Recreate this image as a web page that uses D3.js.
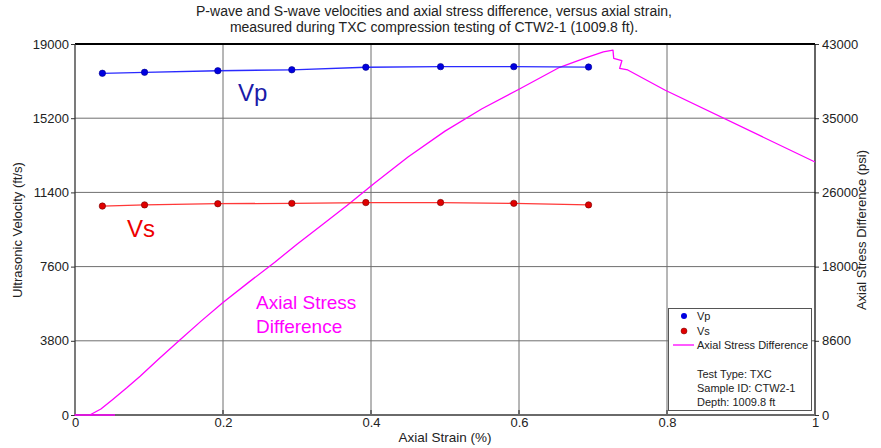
<!DOCTYPE html>
<html>
<head>
<meta charset="utf-8">
<script src="https://cdn.jsdelivr.net/npm/d3@7"></script>
<style>
  html, body { margin: 0; padding: 0; background: #fff; }
  svg { display: block; font-family: "Liberation Sans", Arial, sans-serif; }
</style>
</head>
<body>
<svg id="chart" width="881" height="448"></svg>
<script>
// Ultrasonic velocity measurements (ft/s) at each strain step (%)
const waveStrain = [0.037, 0.094, 0.193, 0.293, 0.393, 0.494, 0.593, 0.694];
const vpValues = [17500, 17550, 17630, 17680, 17810, 17840, 17840, 17820];
const vsValues = [10700, 10760, 10820, 10840, 10880, 10880, 10840, 10760];

// Axial stress difference (psi) versus axial strain (%)
const stressStrain = [0.054, 0.0, 0.02, 0.035, 0.051, 0.07, 0.088, 0.112, 0.139, 0.17, 0.2, 0.235, 0.27, 0.3, 0.335, 0.368, 0.405, 0.45, 0.5, 0.55, 0.6, 0.655, 0.69, 0.714, 0.727, 0.728, 0.739, 0.736, 0.747, 0.797, 1.0];
const stressValues = [0, 0, 0, 700, 1800, 3150, 4500, 6400, 8500, 10850, 13050, 15400, 17700, 19800, 22100, 24300, 26900, 29900, 32900, 35500, 37750, 40300, 41400, 42100, 42300, 41340, 41060, 40180, 39990, 37670, 29320];

// Axis ticks
const xTicks = [0, 0.2, 0.4, 0.6, 0.8, 1];
const xTickLabels = ["0", "0.2", "0.4", "0.6", "0.8", "1"];
const leftTicks = [0, 3800, 7600, 11400, 15200, 19000];
const rightTicks = [0, 8600, 17200, 25800, 34400, 43000];
const rightTickLabels = ["0", "8600", "18000", "26000", "35000", "43000"];

const titleLines = [
  "P-wave and S-wave velocities and axial stress difference, versus axial strain,",
  "measured during TXC compression testing of CTW2-1 (1009.8 ft)."
];
const legendInfo = ["Test Type: TXC", "Sample ID: CTW2-1", "Depth: 1009.8 ft"];

const svg = d3.select("#chart");
const L = 75, R = 815, T = 44, B = 415;

const x = d3.scaleLinear().domain([0, 1]).range([L, R]);
const yL = d3.scaleLinear().domain([0, 19000]).range([B, T]);
const yR = d3.scaleLinear().domain([0, 43000]).range([B, T]);

// grid
const grid = svg.append("g");
grid.selectAll("line.v").data(xTicks.slice(1, -1)).join("line")
  .attr("x1", d => x(d)).attr("x2", d => x(d))
  .attr("y1", T).attr("y2", B)
  .attr("stroke", "#6f6f6f").attr("stroke-width", 1);
grid.selectAll("line.h").data(leftTicks.slice(1, -1)).join("line")
  .attr("x1", L).attr("x2", R)
  .attr("y1", d => yL(d)).attr("y2", d => yL(d))
  .attr("stroke", "#6f6f6f").attr("stroke-width", 1);

// axes
const fontSize = "13px";
const leftAxis = svg.append("g").attr("transform", `translate(${L},0)`)
  .call(d3.axisLeft(yL).tickValues(leftTicks).tickSize(4).tickPadding(2).tickFormat(d3.format("d")));
const rightAxis = svg.append("g").attr("transform", `translate(${R},0)`)
  .call(d3.axisRight(yR).tickValues(rightTicks).tickSize(4).tickPadding(3)
    .tickFormat((d, i) => rightTickLabels[i]));
const bottomAxis = svg.append("g").attr("transform", `translate(0,${B})`)
  .call(d3.axisBottom(x).tickValues(xTicks).tickSize(0).tickPadding(3)
    .tickFormat((d, i) => xTickLabels[i]));
[leftAxis, rightAxis, bottomAxis].forEach(a => {
  a.selectAll("text").attr("font-size", fontSize).attr("fill", "#222")
    .attr("font-family", "Liberation Sans, Arial, sans-serif");
  a.select(".domain").remove();
  a.selectAll(".tick line").attr("stroke", "#333");
});
// inner tick marks along the bottom
svg.append("g").selectAll("line").data(xTicks.slice(1, -1)).join("line")
  .attr("x1", d => x(d)).attr("x2", d => x(d))
  .attr("y1", B).attr("y2", B - 5).attr("stroke", "#222").attr("stroke-width", 1);

// frame
svg.append("line").attr("x1", L).attr("x2", R).attr("y1", T).attr("y2", T)
  .attr("stroke", "#000").attr("stroke-width", 2);
svg.append("line").attr("x1", L).attr("x2", L).attr("y1", T).attr("y2", B)
  .attr("stroke", "#333").attr("stroke-width", 1.3);
svg.append("line").attr("x1", R).attr("x2", R).attr("y1", T).attr("y2", B)
  .attr("stroke", "#111").attr("stroke-width", 1.3);
svg.append("line").attr("x1", L).attr("x2", R).attr("y1", B).attr("y2", B)
  .attr("stroke", "#6a6a6a").attr("stroke-width", 2);

// stress curve
const stressPts = stressStrain.map((s, i) => [s, stressValues[i]]);
svg.append("path").datum(stressPts)
  .attr("d", d3.line().x(d => x(d[0])).y(d => yR(d[1])))
  .attr("fill", "none").attr("stroke", "#ff00ff").attr("stroke-width", 1.3)
  .attr("stroke-linejoin", "round");

// velocity series
function drawSeries(vals, lineColor, dotColor, dotStroke) {
  const pts = waveStrain.map((s, i) => [s, vals[i]]);
  svg.append("path").datum(pts)
    .attr("d", d3.line().x(d => x(d[0])).y(d => yL(d[1])))
    .attr("fill", "none").attr("stroke", lineColor).attr("stroke-width", 1.3);
  svg.append("g").selectAll("circle").data(pts).join("circle")
    .attr("cx", d => x(d[0])).attr("cy", d => yL(d[1])).attr("r", 3.2)
    .attr("fill", dotColor).attr("stroke", dotStroke).attr("stroke-width", 0.6);
}
drawSeries(vpValues, "#2a2aff", "#0000e0", "#00008a");
drawSeries(vsValues, "#ff3838", "#e00000", "#700000");

// series annotations
svg.append("text").attr("x", 238).attr("y", 101).attr("font-size", "24px")
  .attr("fill", "#1a1aa8").text("Vp");
svg.append("text").attr("x", 127).attr("y", 237).attr("font-size", "24px")
  .attr("fill", "#ee0000").text("Vs");
svg.append("text").attr("x", 256).attr("y", 309).attr("font-size", "19px")
  .attr("fill", "#ff00ff").text("Axial Stress");
svg.append("text").attr("x", 256).attr("y", 333).attr("font-size", "19px")
  .attr("fill", "#ff00ff").text("Difference");

// title
svg.append("g").selectAll("text").data(titleLines).join("text")
  .attr("x", 434).attr("y", (d, i) => 16 + i * 16)
  .attr("text-anchor", "middle").attr("font-size", "14px").attr("fill", "#222")
  .text(d => d);

// axis titles
svg.append("text").attr("x", 445).attr("y", 442).attr("text-anchor", "middle")
  .attr("font-size", "13.5px").attr("fill", "#222").text("Axial Strain (%)");
svg.append("text").attr("transform", "translate(22,230) rotate(-90)")
  .attr("text-anchor", "middle").attr("font-size", "13px").attr("fill", "#222")
  .text("Ultrasonic Velocity (ft/s)");
svg.append("text").attr("transform", "translate(866,230) rotate(-90)")
  .attr("text-anchor", "middle").attr("font-size", "13px").attr("fill", "#222")
  .text("Axial Stress Difference (psi)");

// legend
const lg = svg.append("g");
lg.append("rect").attr("x", 668.5).attr("y", 308.5).attr("width", 143).attr("height", 102)
  .attr("fill", "#fff").attr("stroke", "#555").attr("stroke-width", 1);
const lgFont = "11px";
lg.append("circle").attr("cx", 684).attr("cy", 316).attr("r", 3).attr("fill", "#0000e0");
lg.append("text").attr("x", 697).attr("y", 320).attr("font-size", lgFont).attr("fill", "#222").text("Vp");
lg.append("circle").attr("cx", 684).attr("cy", 331).attr("r", 3).attr("fill", "#e00000")
  .attr("stroke", "#700000").attr("stroke-width", 0.5);
lg.append("text").attr("x", 697).attr("y", 335).attr("font-size", lgFont).attr("fill", "#222").text("Vs");
lg.append("line").attr("x1", 673).attr("x2", 694).attr("y1", 345).attr("y2", 345)
  .attr("stroke", "#ff00ff").attr("stroke-width", 1.3);
lg.append("text").attr("x", 697).attr("y", 349).attr("font-size", lgFont).attr("fill", "#222")
  .text("Axial Stress Difference");
lg.selectAll("text.info").data(legendInfo).join("text").attr("class", "info")
  .attr("x", 697).attr("y", (d, i) => 378 + i * 14)
  .attr("font-size", lgFont).attr("fill", "#222").text(d => d);
</script>
</body>
</html>
